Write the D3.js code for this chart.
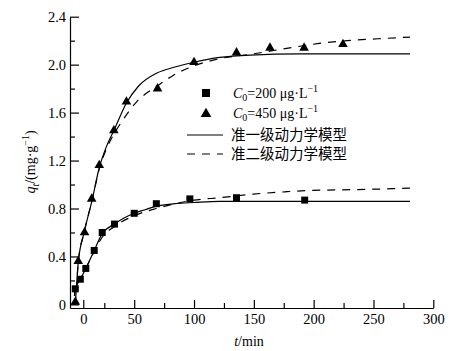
<!DOCTYPE html>
<html>
<head>
<meta charset="utf-8">
<script src="https://cdn.jsdelivr.net/npm/d3@7"></script>
<style>
  body { margin: 0; background: #fff; }
  svg { display: block; }
</style>
</head>
<body>
<div id="chart"></div>
<script>
// measured data, C0 = 200 ug/L (squares)
const t200 = [-9.5, -3.5, 3, 13, 22.5, 33.5, 50, 68.5, 96.5, 135.5, 192.5];
const q200 = [0.13, 0.21, 0.30, 0.45, 0.60, 0.67, 0.76, 0.84, 0.88, 0.89, 0.87];
// measured data, C0 = 450 ug/L (triangles)
const t450 = [-9.5, -6, 1.5, 10, 19, 33, 43.5, 69.5, 100, 135.5, 163.5, 192, 224.5];
const q450 = [0.02, 0.36, 0.60, 0.88, 1.16, 1.45, 1.69, 1.80, 2.02, 2.10, 2.14, 2.14, 2.17];

// model curves
const tFirst200 = [-10.5, -9.5, -3.5, 3, 13, 22.5, 33.5, 41.5, 50, 59, 68.5, 84, 100, 121.5, 147, 280.5];
const qFirst200 = [0.07, 0.13, 0.21, 0.30, 0.45, 0.59, 0.67, 0.72, 0.76, 0.79, 0.82, 0.84, 0.85, 0.86, 0.86, 0.86];
const tSecond200 = [-10.5, -9.5, -3.5, 3, 13, 22.5, 33.5, 50, 68.5, 84, 100, 121.5, 149.5, 177.5, 194.5, 219.5, 244.5, 265.5, 280.5];
const qSecond200 = [0.07, 0.13, 0.21, 0.30, 0.44, 0.56, 0.65, 0.74, 0.80, 0.84, 0.87, 0.89, 0.92, 0.94, 0.95, 0.955, 0.96, 0.965, 0.97];
const tFirst450 = [-11, -9.5, -6, 1, 10.5, 19, 26.5, 33, 43.5, 53.5, 69, 84, 100, 121.5, 147, 188.5, 280.5];
const qFirst450 = [0, 0.03, 0.35, 0.60, 0.87, 1.14, 1.31, 1.45, 1.68, 1.82, 1.93, 1.98, 2.02, 2.06, 2.08, 2.09, 2.09];
const tSecond450 = [-11, -9.5, -6, 1, 10.5, 19, 26.5, 33, 40, 52, 69, 82.5, 100, 121.5, 149.5, 180, 207, 228, 261.5, 280.5];
const qSecond450 = [0, 0.03, 0.35, 0.60, 0.87, 1.13, 1.29, 1.42, 1.53, 1.69, 1.82, 1.91, 1.99, 2.05, 2.09, 2.14, 2.18, 2.20, 2.22, 2.23];

const xMajor = [0, 50, 100, 150, 200, 250, 300];
const xMinor = [25, 75, 125, 175, 225, 275];
const yMajor = [0, 0.4, 0.8, 1.2, 1.6, 2.0, 2.4];
const yMinor = [0.2, 0.6, 1.0, 1.4, 1.8, 2.2];

const legendLabels = ['准一级动力学模型', '准二级动力学模型'];

const width = 462, height = 351;
const serif = '"Liberation Serif", "Times New Roman", serif';
const cjk = '"Noto Sans CJK SC", sans-serif';

const svg = d3.select('#chart')
    .append('svg')
    .attr('width', width)
    .attr('height', height);

// the printed axis squeezes the first 25 min, so the scale is piecewise
const x = d3.scaleLinear().domain([-15.8, 25, 300]).range([70, 104.3, 433.3]);
const y = d3.scaleLinear().domain([-0.03, 2.4]).range([308, 16.7]);

function styleAxis(g) {
    g.selectAll('.domain').attr('stroke', '#000').attr('stroke-width', 1.2);
    g.selectAll('.tick line').attr('stroke', '#000').attr('stroke-width', 1.2);
    g.selectAll('text').attr('fill', '#000').style('font-family', serif).style('font-size', '14.5px');
}

const xAxis = svg.append('g')
    .attr('transform', `translate(0,${y.range()[0]})`)
    .call(d3.axisBottom(x).tickValues(xMajor).tickSizeInner(-8).tickSizeOuter(0).tickPadding(6).tickFormat(d3.format('d')))
    .call(styleAxis);

svg.append('g')
    .attr('transform', `translate(0,${y.range()[0]})`)
    .call(d3.axisBottom(x).tickValues(xMinor).tickSizeInner(-5).tickSizeOuter(0).tickFormat(''))
    .call(styleAxis)
    .select('.domain').remove();

const yAxis = svg.append('g')
    .attr('transform', `translate(${x.range()[0]},0)`)
    .call(d3.axisLeft(y).tickValues(yMajor).tickSizeInner(-9).tickSizeOuter(0).tickPadding(4)
        .tickFormat(d => d === 0 ? '0' : d.toFixed(1)))
    .call(styleAxis);

svg.append('g')
    .attr('transform', `translate(${x.range()[0]},0)`)
    .call(d3.axisLeft(y).tickValues(yMinor).tickSizeInner(-5).tickSizeOuter(0).tickFormat(''))
    .call(styleAxis)
    .select('.domain').remove();

// axis titles
const xTitle = svg.append('text')
    .attr('x', 249)
    .attr('y', 346)
    .attr('text-anchor', 'middle')
    .style('font-family', serif)
    .style('font-size', '14px');
xTitle.append('tspan').style('font-style', 'italic').text('t');
xTitle.append('tspan').text('/min');

const yTitle = svg.append('text')
    .attr('transform', 'translate(35,162) rotate(-90)')
    .attr('text-anchor', 'middle')
    .style('font-family', serif)
    .style('font-size', '14px');
yTitle.append('tspan').style('font-style', 'italic').text('q');
yTitle.append('tspan').style('font-style', 'italic').attr('dy', 4).style('font-size', '10px').text('t');
yTitle.append('tspan').attr('dy', -4).text('/(mg·g');
yTitle.append('tspan').attr('dy', -6).style('font-size', '10px').text('−1');
yTitle.append('tspan').attr('dy', 6).text(')');

// model curves
const line = d3.line()
    .x(d => x(d[0]))
    .y(d => y(d[1]))
    .curve(d3.curveMonotoneX);

const curves = [
    {t: tFirst200, q: qFirst200, dash: null},
    {t: tSecond200, q: qSecond200, dash: '8,7'},
    {t: tFirst450, q: qFirst450, dash: null},
    {t: tSecond450, q: qSecond450, dash: '8,7'}
];

svg.selectAll('.curve')
    .data(curves)
    .enter()
    .append('path')
    .attr('class', 'curve')
    .attr('d', d => line(d.t.map((v, i) => [v, d.q[i]])))
    .attr('fill', 'none')
    .attr('stroke', '#000')
    .attr('stroke-width', 1.2)
    .attr('stroke-dasharray', d => d.dash);

// markers
const square = d3.symbol().type(d3.symbolSquare).size(49);
const triangle = d3.symbol().type(d3.symbolTriangle).size(40);

svg.selectAll('.sq')
    .data(t200.map((v, i) => [v, q200[i]]))
    .enter()
    .append('path')
    .attr('class', 'sq')
    .attr('d', square)
    .attr('transform', d => `translate(${x(d[0])},${y(d[1])})`)
    .attr('fill', '#000');

svg.selectAll('.tri')
    .data(t450.map((v, i) => [v, q450[i]]))
    .enter()
    .append('path')
    .attr('class', 'tri')
    .attr('d', triangle)
    .attr('transform', d => `translate(${x(d[0])},${y(d[1])})`)
    .attr('fill', '#000');

// legend
const legend = svg.append('g');

legend.append('path')
    .attr('d', d3.symbol().type(d3.symbolSquare).size(64))
    .attr('transform', 'translate(206,93)');
legend.append('path')
    .attr('d', d3.symbol().type(d3.symbolTriangle).size(50))
    .attr('transform', 'translate(206,114)');

[200, 450].forEach((c, i) => {
    const txt = legend.append('text')
        .attr('x', 233)
        .attr('y', 98 + i * 20)
        .style('font-family', serif)
        .style('font-size', '14px');
    txt.append('tspan').style('font-style', 'italic').text('C');
    txt.append('tspan').attr('dy', 3).style('font-size', '10px').text('0');
    txt.append('tspan').attr('dy', -3).text(`=${c} μg·L`);
    txt.append('tspan').attr('dy', -6).style('font-size', '10px').text('−1');
});

legendLabels.forEach((label, i) => {
    const ly = 135 + i * 19;
    legend.append('line')
        .attr('x1', 187).attr('x2', 223)
        .attr('y1', ly).attr('y2', ly)
        .attr('stroke', '#000')
        .attr('stroke-width', 1.2)
        .attr('stroke-dasharray', i === 1 ? '8,7' : null);
    legend.append('text')
        .attr('x', 231)
        .attr('y', ly + 5)
        .style('font-family', cjk)
        .style('font-size', '14.5px')
        .text(label);
});
</script>
</body>
</html>
